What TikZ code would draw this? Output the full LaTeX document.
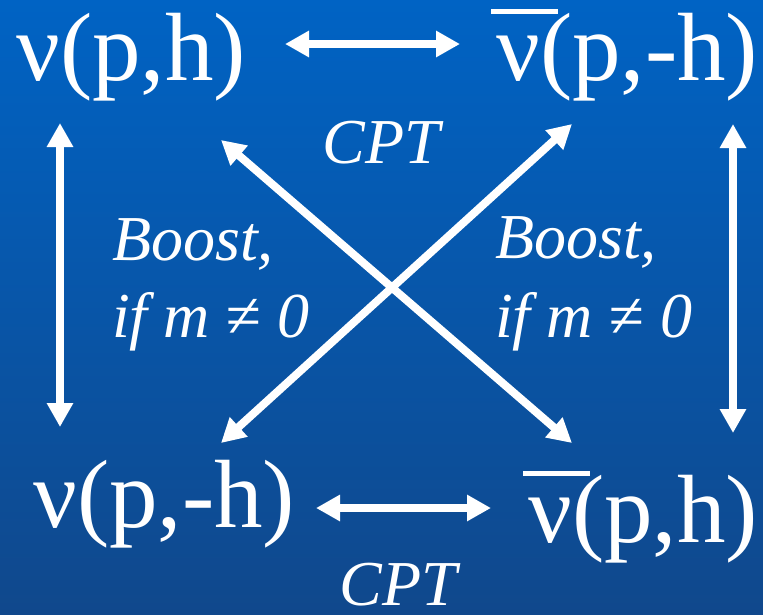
\documentclass[tikz,border=0pt]{standalone}
\usepackage{fontspec}
\setmainfont{Liberation Serif}
\usetikzlibrary{arrows.meta}
\definecolor{bgtop}{RGB}{0,99,196}
\definecolor{bgbot}{RGB}{16,72,140}
\newcommand{\nubar}{\makebox[0pt][l]{\hspace*{-0.05em}\raisebox{0.68em}{\rule{0.69em}{0.055em}}}ν}
\begin{document}
\begin{tikzpicture}[x=1pt,y=-1pt,
  big/.style={text=white, font=\fontsize{97}{100}\selectfont, inner sep=0pt, anchor=base west},
  lab/.style={text=white, font=\fontsize{64}{70}\selectfont\itshape, inner sep=0pt, anchor=base west},
  arr/.style={draw=white, line width=8pt, {Triangle[length=24pt,width=25pt]}-{Triangle[length=24pt,width=25pt]}}]
  \shade[top color=bgtop, bottom color=bgbot] (0,0) rectangle (763,614);
  \useasboundingbox (0,0) rectangle (763,614);
  % text nodes
  \node[big] (A) at (16,80) {ν(p,h)};
  \node[big] (B) at (496,80) {\nubar(p,-h)};
  \node[big] (C) at (33,527) {ν(p,-h)};
  \node[big] (D) at (528,542) {\nubar(p,h)};
  \node[lab, anchor=base] (cpt1) at (381,163) {CPT};
  \node[lab, anchor=base] (cpt2) at (398,605) {CPT};
  \node[lab] (b1) at (112,260) {Boost,};
  \node[lab] (i1) at (112,337) {if m ≠ 0};
  \node[lab] (b2) at (495,258) {Boost,};
  \node[lab] (i2) at (495,337) {if m ≠ 0};
  % arrow end points
  \coordinate (h1a) at (285,44);  \coordinate (h1b) at (460,44);
  \coordinate (h2a) at (316,508); \coordinate (h2b) at (491,508);
  \coordinate (v1a) at (60,123);  \coordinate (v1b) at (60,427);
  \coordinate (v2a) at (733,124); \coordinate (v2b) at (733,433);
  \coordinate (d1a) at (221,140); \coordinate (d1b) at (572,443);
  \coordinate (d2a) at (221,443); \coordinate (d2b) at (572,124);
  \draw[arr] (h1a) -- (h1b);
  \draw[arr] (h2a) -- (h2b);
  \draw[arr] (v1a) -- (v1b);
  \draw[arr] (v2a) -- (v2b);
  \draw[arr] (d1a) -- (d1b);
  \draw[arr] (d2a) -- (d2b);
\end{tikzpicture}
\end{document}
